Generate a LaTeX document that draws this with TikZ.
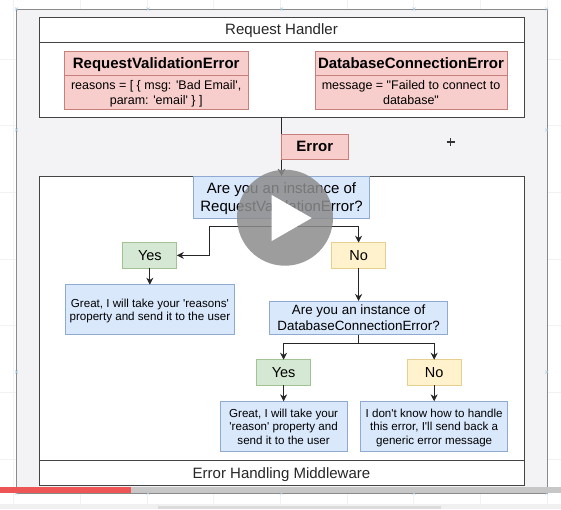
\documentclass[tikz,border=0pt]{standalone}
\usepackage{fontspec}
\setmainfont{Liberation Sans}[Ligatures=TeXOff]
\usepackage{xcolor}
\usetikzlibrary{arrows.meta,positioning,calc}
\definecolor{canvas}{HTML}{F3F2F5}
\definecolor{gridline}{HTML}{F2F2F2}
\definecolor{framegray}{HTML}{8A8A8A}
\definecolor{boxline}{HTML}{444444}
\definecolor{errorfill}{HTML}{F8CECC}
\definecolor{errorline}{HTML}{C77F7C}
\definecolor{yesfill}{HTML}{D5E8D4}
\definecolor{yesline}{HTML}{A3C293}
\definecolor{nofill}{HTML}{FFF2CC}
\definecolor{noline}{HTML}{E6CF8F}
\definecolor{askfill}{HTML}{DAE8FC}
\definecolor{askline}{HTML}{8FA9D2}
\definecolor{handlemark}{HTML}{A9CDE8}
\definecolor{barred}{HTML}{EE5555}
\newcommand{\fs}[2]{\fontsize{#1}{#2}\selectfont}
\tikzset{
  plainbox/.style={draw=boxline,thick,fill=white,inner sep=0pt,outer sep=0pt,font=\fs{15}{17.3},text=black!85,text depth=0pt},
  errbox/.style={draw=errorline,thick,fill=errorfill,inner sep=0pt,outer sep=0pt,align=center,text depth=0pt},
  yesbox/.style={draw=yesline,thick,fill=yesfill,inner sep=0pt,outer sep=0pt,font=\fs{14.5}{16},minimum width=54pt,minimum height=25.3pt,text depth=0pt},
  nobox/.style={draw=noline,thick,fill=nofill,inner sep=0pt,outer sep=0pt,font=\fs{14.5}{16},minimum width=54.5pt,minimum height=25.3pt,text depth=0pt},
  askbox/.style={draw=askline,thick,fill=askfill,inner sep=0pt,outer sep=0pt,align=center,text depth=0pt},
  link/.style={-{Stealth[length=7pt,width=7pt]},thick,black!85}
}
\begin{document}
\begin{tikzpicture}[x=1pt,y=-1pt]
    \useasboundingbox (0,0) rectangle (561,509);
    \fill[white] (0,0) rectangle (561,509);
    \foreach \gx in {13.5,80,147,213,280,347,413,480,547} \draw[gridline] (\gx,0) -- (\gx,509);
    \foreach \gy in {59,125.5,192,259,325,392,459} \draw[gridline] (0,\gy) -- (561,\gy);
    \draw[framegray,fill=canvas] (16.5,9) rectangle (546.7,493);
    \foreach \hx/\hy in {16.5/9,148/9,281.5/9,414/9,546.7/9,16.5/130,546.7/130,16.5/372,546.7/372,16.5/493,148/493,281.5/493,414/493,546.7/493}
      \draw[handlemark] (\hx-1.5,\hy-1.5) -- (\hx+1.5,\hy+1.5) (\hx-1.5,\hy+1.5) -- (\hx+1.5,\hy-1.5);

    % request handler
    \node[plainbox,minimum width=485pt,minimum height=25pt] (handlertitle) at (281.5,29.5) {Request Handler};
    \node[plainbox,minimum width=485pt,minimum height=75pt,below=0pt of handlertitle] (handlerbody) {};
    \node[errbox,minimum width=183.6pt,minimum height=24.7pt,font=\fs{15}{17}\bfseries] (reqtitle) at (156.2,63.35) {RequestValidationError};
    \node[errbox,minimum width=183.6pt,minimum height=33.3pt,font=\fs{12.5}{14.7},below=0pt of reqtitle] (reqbody) {reasons = [ \{ msg: 'Bad Email',\\param: 'email' \} ]};
    \node[errbox,minimum width=192pt,minimum height=24.7pt,font=\fs{15}{17}\bfseries,right=67pt of reqtitle] (dbtitle) {DatabaseConnectionError};
    \node[errbox,minimum width=192pt,minimum height=33.3pt,font=\fs{12.5}{14.7},below=0pt of dbtitle] (dbbody) {message = "Failed to connect to\\database"};

    % middleware
    \node[plainbox,minimum width=485pt,minimum height=309.7pt] (midbox) at (281.5,330.85) {};
    \node[plainbox,minimum width=485pt,minimum height=25.7pt] (midtitle) at (281.5,472.85) {Error Handling Middleware};

    \node[askbox,minimum width=175.3pt,minimum height=42pt,font=\fs{15}{17.3}] (qone) at (281.5,197) {Are you an instance of\\RequestValidationError?};
    \node[yesbox] (yesa) at (149.85,255.35) {Yes};
    \node[nobox,right=154.5pt of yesa] (noa) {No};
    \node[askbox,minimum width=169pt,minimum height=50pt,font=\fs{11.6}{13.7},below=16.7pt of yesa] (greata) {Great, I will take your 'reasons'\\property and send it to the user};
    \node[askbox,minimum width=177.6pt,minimum height=33.7pt,font=\fs{13.4}{15.7},below=33pt of noa] (qtwo) {Are you an instance of\\DatabaseConnectionError?};
    \node[yesbox] (yesb) at (283.6,372.35) {Yes};
    \node[nobox,right=96.3pt of yesb] (nob) {No};
    \node[askbox,minimum width=126.6pt,minimum height=50.4pt,font=\fs{11.6}{13.7},below=16.3pt of yesb] (greatb) {Great, I will take your\\'reason' property and\\send it to the user};
    \node[askbox,minimum width=147.4pt,minimum height=50.4pt,font=\fs{11.6}{13.7},below=16.3pt of nob] (msgb) {I don't know how to handle\\this error, I'll send back a\\generic error message};

    \draw[link] (handlerbody.south) -- (qone.north);
    \node[errbox,minimum width=67.5pt,minimum height=25.3pt,font=\fs{15}{17}\bfseries] (errtag) at (314.75,146.65) {Error};

    \coordinate (elbowa) at (209,226);
    \coordinate (elbowb) at (noa.north |- elbowa);
    \draw[link] (qone.south) |- (elbowa) |- (yesa.east);
    \draw[link] (qone.south) |- (elbowb) -- (noa.north);
    \draw[link] (yesa) -- (greata);
    \draw[link] (noa) -- (qtwo);
    \coordinate (elbowc) at (yesb.north |- 0,343);
    \coordinate (elbowd) at (nob.north |- 0,343);
    \draw[link] (qtwo.south) |- (elbowc) -- (yesb.north);
    \draw[link] (qtwo.south) |- (elbowd) -- (nob.north);
    \draw[link] (yesb) -- (greatb);
    \draw[link] (nob) -- (msgb);

    % video player on top
    \fill[black!45,opacity=.85] (285,217.7) circle (48);
    \fill[white] (271.7,195) -- (271.7,241) -- (311.7,218) -- cycle;
    \fill[black!22] (131,487) rectangle (561,492.7);
    \fill[barred] (0,487) rectangle (131,492.7);
    \fill[black!6] (0,504) rectangle (561,509);
    \fill[black!14] (158,505.7) rectangle (441,509);
    \draw[black!80,line width=1.5pt] (446.5,142) -- (454.5,142) (450.5,138) -- (450.5,146);
  \end{tikzpicture}
\end{document}
